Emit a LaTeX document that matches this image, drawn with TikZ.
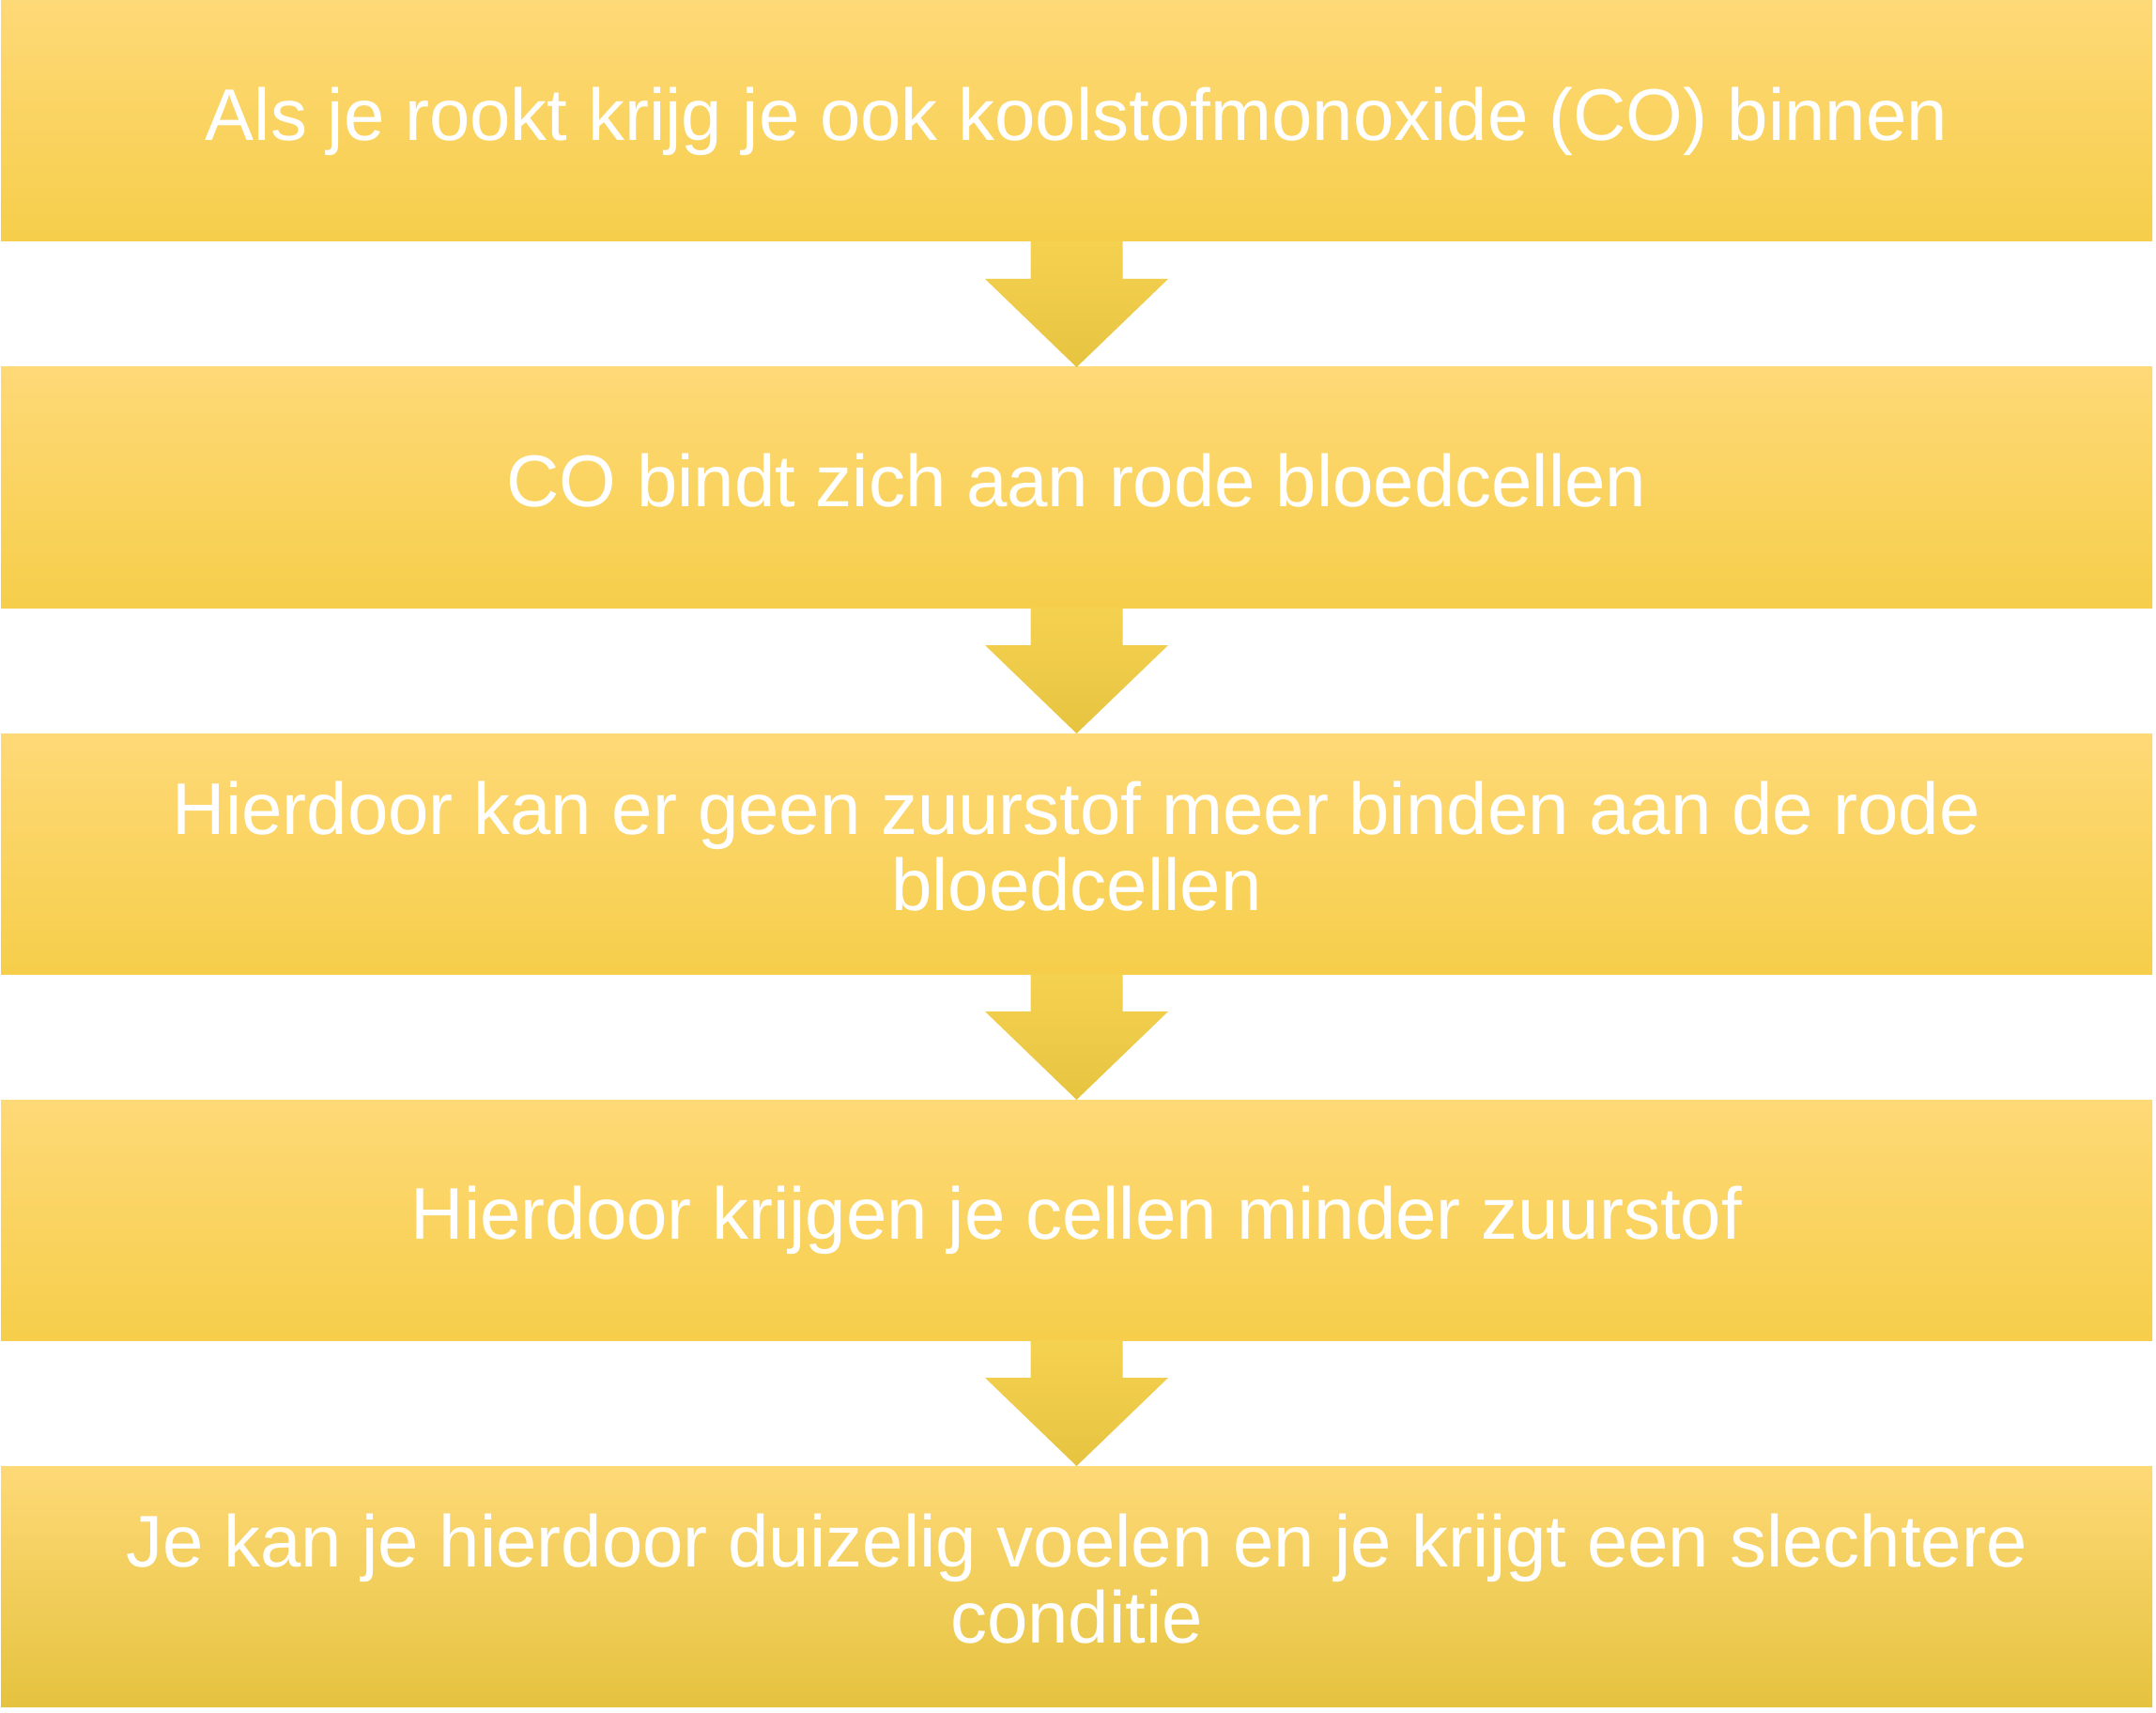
\documentclass[tikz,border=0pt]{standalone}
\usepackage{fontspec}
\setmainfont{Liberation Sans}
\usetikzlibrary{positioning, calc}

\definecolor{boxtop}{HTML}{FED977}
\definecolor{boxmid}{HTML}{FDD654}
\definecolor{boxbot}{HTML}{F6CE4B}
\definecolor{lastbot}{HTML}{E5C33F}
\definecolor{arrowtop}{HTML}{F5D150}
\definecolor{arrowbot}{HTML}{E6C440}
\newcommand{\stepfont}{\fontsize{39pt}{40.5pt}\selectfont\lineskiplimit=-100pt\relax\lineskip=0pt\relax}
\newcommand{\linestrut}{\rule[-8.2pt]{0pt}{36.6pt}}

\begin{document}
\begin{tikzpicture}[node distance=67pt,
      stepbox/.style={rectangle, draw=none, outer sep=0pt, inner sep=0pt,
        minimum width=1145.5pt, minimum height=128pt, align=center, text=white,
        font=\stepfont, top color=boxtop, middle color=boxmid, bottom color=boxbot},
      laststep/.style={stepbox, bottom color=lastbot},
      flowarrow/.style={top color=arrowtop, bottom color=arrowbot}]
      \useasboundingbox (0,0) rectangle (1148pt,-912pt);
      \node[stepbox] (s1) at (573.25pt,-64.5pt) {\linestrut Als je rookt krijg je ook koolstofmonoxide (CO) binnen};
      \node[stepbox, below=of s1] (s2) {\linestrut CO bindt zich aan rode bloedcellen};
      \node[stepbox, below=of s2] (s3) {\linestrut Hierdoor kan er geen zuurstof meer binden aan de rode\\\linestrut bloedcellen};
      \node[stepbox, below=of s3] (s4) {\linestrut Hierdoor krijgen je cellen minder zuurstof};
      \node[laststep, below=of s4] (s5) {\linestrut Je kan je hierdoor duizelig voelen en je krijgt een slechtere\\\linestrut conditie};
      \foreach \a/\b in {s1/s2, s2/s3, s3/s4, s4/s5}
        \shade[flowarrow] ($(\a.south)+(-24.5pt,0)$) -- ($(\a.south)+(24.5pt,0)$)
          -- ($(\a.south)+(24.5pt,-20pt)$) -- ($(\a.south)+(48.75pt,-20pt)$)
          -- (\b.north) -- ($(\a.south)+(-48.75pt,-20pt)$)
          -- ($(\a.south)+(-24.5pt,-20pt)$) -- cycle;
    \end{tikzpicture}
\end{document}
